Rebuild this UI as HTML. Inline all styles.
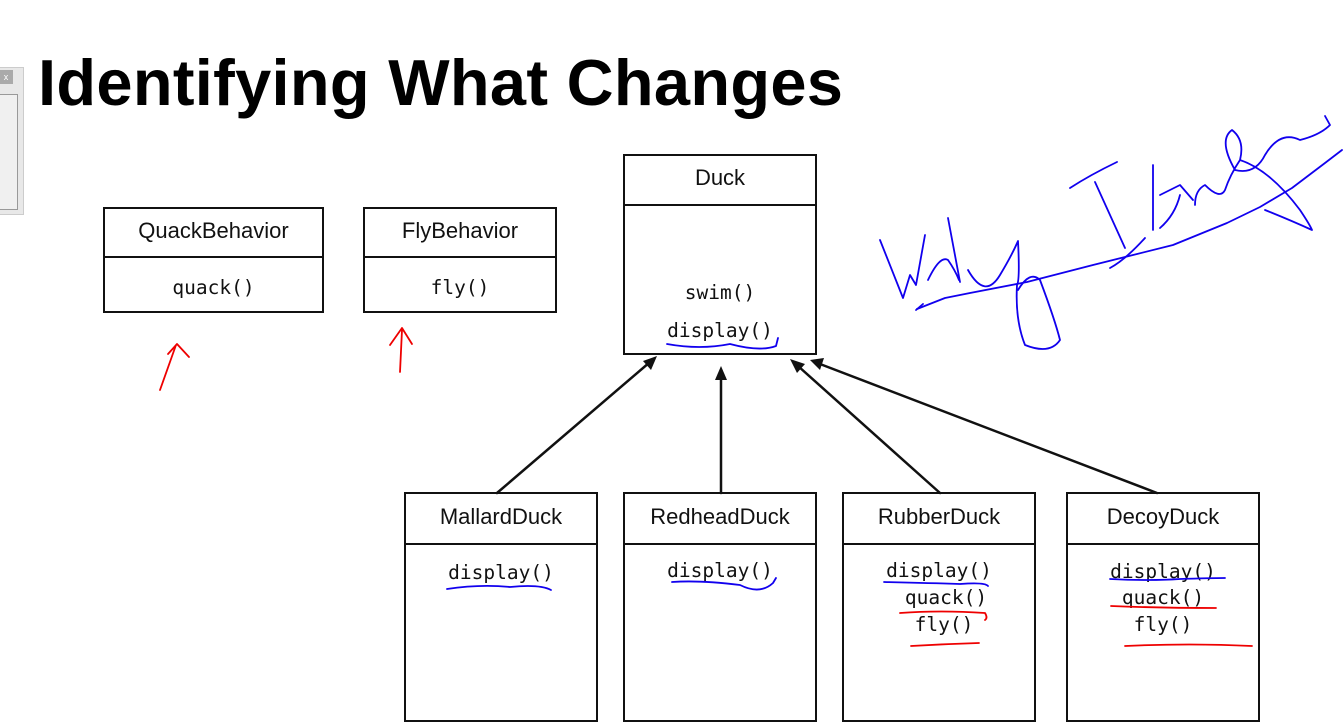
<!DOCTYPE html>
<html><head><meta charset="utf-8"><style>
body{margin:0;width:1343px;height:673px;background:#fff;overflow:hidden;position:relative;font-family:"Liberation Sans",sans-serif}
.t{position:absolute;left:38px;top:50px;font-size:65px;line-height:1;font-weight:bold;color:#000;letter-spacing:0.3px;white-space:nowrap}
.b{position:absolute;border:2.5px solid #111;box-sizing:border-box;background:#fff}
.h{position:absolute;left:0;right:0;top:0;border-bottom:2.5px solid #111;text-align:center;font-size:22px;color:#111}
.m{position:absolute;left:0;right:0;text-align:center;font-family:"DejaVu Sans Mono","Liberation Mono",monospace;font-size:19.5px;color:#111}
.w{position:absolute;left:-2px;top:67px;width:26px;height:148px;background:#e8e8e8;border:1px solid #ccc;box-sizing:border-box}
</style></head><body>
<div class="w"><div style="position:absolute;left:0;top:2px;width:14px;height:14px;background:#aaa;color:#fff;font-size:9px;text-align:center;line-height:14px">x</div><div style="position:absolute;left:-2px;top:26px;width:19px;height:114px;border:1px solid #999;background:#f0f0f0"></div></div>
<div class="t">Identifying What Changes</div>

<div class="b" style="left:103px;top:207px;width:221px;height:106px"><div class="h" style="height:47px;line-height:44px">QuackBehavior</div><div class="m" style="top:67px">quack()</div></div>
<div class="b" style="left:363px;top:207px;width:194px;height:106px"><div class="h" style="height:47px;line-height:44px">FlyBehavior</div><div class="m" style="top:67px">fly()</div></div>
<div class="b" style="left:623px;top:154px;width:194px;height:201px"><div class="h" style="height:48px;line-height:44px">Duck</div><div class="m" style="top:125px">swim()</div><div class="m" style="top:163px">display()</div></div>

<div class="b" style="left:404px;top:492px;width:194px;height:230px"><div class="h" style="height:49px;line-height:46px">MallardDuck</div><div class="m" style="top:67px">display()</div></div>
<div class="b" style="left:623px;top:492px;width:194px;height:230px"><div class="h" style="height:49px;line-height:46px">RedheadDuck</div><div class="m" style="top:65px">display()</div></div>
<div class="b" style="left:842px;top:492px;width:194px;height:230px"><div class="h" style="height:49px;line-height:46px">RubberDuck</div><div class="m" style="top:65px">display()</div><div class="m" style="top:92px;left:14px">quack()</div><div class="m" style="top:119px;left:10px">fly()</div></div>
<div class="b" style="left:1066px;top:492px;width:194px;height:230px"><div class="h" style="height:49px;line-height:46px">DecoyDuck</div><div class="m" style="top:66px">display()</div><div class="m" style="top:92px">quack()</div><div class="m" style="top:119px">fly()</div></div>

<svg width="1343" height="673" style="position:absolute;left:0;top:0" fill="none" stroke-linecap="round" stroke-linejoin="round">
<g stroke="#111" stroke-width="2.5">
<line x1="497" y1="493" x2="650" y2="362"/><line x1="721" y1="493" x2="721" y2="375"/><line x1="940" y1="493" x2="798" y2="366"/><line x1="1157" y1="493" x2="820" y2="364"/>
</g>
<g fill="#111">
<polygon points="657,356 643,361 651,370"/><polygon points="721,366 715,380 727,380"/><polygon points="790,359 797,373 805,364"/><polygon points="810,360 820,370 824,358"/>
</g>
<g stroke="#e00" stroke-width="1.8">
<path d="M160,390 L176,345 M168,354 L177,344 L189,357"/>
<path d="M400,372 L402,330 M390,345 L402,328 L412,344"/>
<path d="M900,613 Q940,610 985,613 Q988,618 985,620"/><path d="M911,646 Q945,644 979,643"/>
<path d="M1111,606 Q1160,608 1216,608"/><path d="M1125,646 Q1190,643 1252,646"/>
</g>
<g stroke="#10e" stroke-width="1.8">
<path d="M667,344 Q700,350 730,344 Q760,352 776,346 L778,338"/>
<path d="M447,589 Q480,584 510,587 Q540,584 551,590"/>
<path d="M672,582 Q700,580 740,585 Q760,595 773,583 L776,578"/>
<path d="M884,582 Q930,583 960,584 Q985,582 988,586"/>
<path d="M1110,579 Q1150,581 1180,579 Q1210,578 1225,578"/>
<path d="M917,309 L945,298 L970,293 L1027,282 L1093,265 L1173,245 L1227,223 L1260,207 L1292,188 L1325,163 L1342,150"/>
<path d="M916,310 L923,304"/>
<path d="M880,240 L903,298 L910,275 L916,285 L925,235"/>
<path d="M948,218 L960,282 M928,280 Q940,255 948,260 Q955,270 959,280"/>
<path d="M968,270 Q985,300 1000,275 Q1012,255 1018,241 Q1020,280 1017,285 Q1015,320 1025,345 Q1050,355 1060,340 Q1055,320 1040,280 Q1030,270 1018,290"/>
<path d="M1070,188 Q1090,175 1117,162 M1095,182 L1125,248 M1110,268 Q1125,260 1145,238"/>
<path d="M1153,165 L1153,230 M1160,228 Q1175,215 1180,195 M1160,195 L1180,185 L1193,200 M1195,205 Q1195,190 1205,185 Q1220,200 1225,190 Q1230,175 1240,160 Q1245,140 1232,130 Q1218,140 1235,170 Q1255,175 1265,155 Q1280,130 1300,140 Q1320,135 1330,125 L1325,116 M1240,160 Q1270,170 1300,210 Q1310,225 1312,230 Q1290,220 1265,210"/>
</g>
</svg>
</body></html>
